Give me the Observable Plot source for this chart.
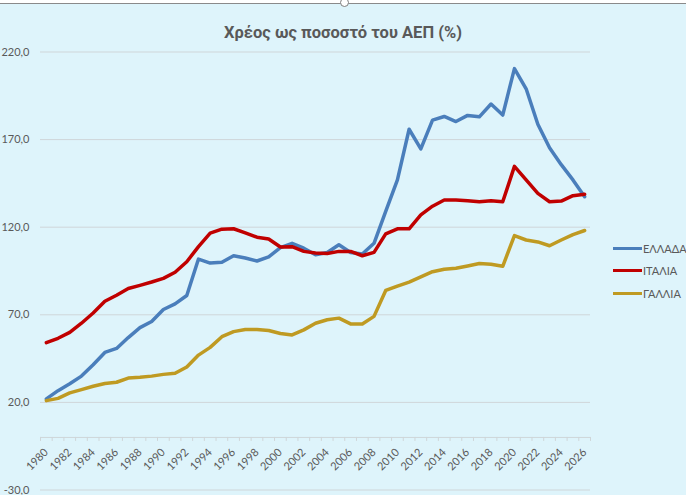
<!DOCTYPE html>
<html><head><meta charset="utf-8">
<script src="https://cdn.jsdelivr.net/npm/d3@7"></script>
<script src="https://cdn.jsdelivr.net/npm/@observablehq/plot@0.6"></script>
<style>
html,body{margin:0;padding:0;background:#fff;}
#wrap{position:relative;width:686px;height:495px;background:#def4fb;overflow:hidden;font-family:Lato,"Open Sans",sans-serif;}
#topbar{position:absolute;left:0;top:0;width:686px;height:3px;background:#fff;border-bottom:1px solid #8a8a8a;}
#handle{position:absolute;left:340px;top:-2px;width:7px;height:7px;border:1px solid #7f7f7f;border-radius:50%;background:#fff;}
#title{height:44px;box-sizing:border-box;padding-top:23px;line-height:20px;text-align:center;font-family:Roboto,sans-serif;font-weight:700;font-size:16.5px;color:#595959;}
#chart svg{display:block;}
#legend{position:absolute;left:613px;top:237px;font-size:11px;color:#595959;}
.item{display:flex;align-items:center;height:22.5px;}
.sw{width:29px;height:3px;margin-right:1px;}
</style>
</head><body>
<div id="wrap">
  <div id="topbar"></div><div id="handle"></div>
  <div id="title">Χρέος ως ποσοστό του ΑΕΠ (%)</div>
  <div id="chart"></div>
  <div id="legend"></div>
</div>
<script>
const years = [1980,1981,1982,1983,1984,1985,1986,1987,1988,1989,1990,1991,1992,1993,1994,1995,1996,1997,1998,1999,2000,2001,2002,2003,2004,2005,2006,2007,2008,2009,2010,2011,2012,2013,2014,2015,2016,2017,2018,2019,2020,2021,2022,2023,2024,2025,2026];
const tickYears = [1980,1982,1984,1986,1988,1990,1992,1994,1996,1998,2000,2002,2004,2006,2008,2010,2012,2014,2016,2018,2020,2022,2024,2026];
const yTicks = [-30,20,70,120,170,220];
const greece = [22.0,26.7,30.6,35.0,41.5,48.5,50.8,57.0,62.7,66.2,73.0,76.2,81.0,101.8,99.5,100.0,103.7,102.4,100.7,103.1,108.3,110.8,108.0,104.3,105.6,110.0,105.6,104.7,110.8,129.0,147.0,175.9,164.7,181.1,183.2,180.3,183.8,183.0,190.3,184.0,210.5,199.0,178.8,165.3,155.7,147.0,137.4];
const italy = [54.1,56.6,60.0,65.2,71.0,77.7,81.2,85.0,86.8,88.7,90.8,94.3,100.3,108.9,116.6,118.9,119.1,116.8,114.3,113.3,108.7,108.9,106.2,105.3,105.0,106.2,106.2,103.7,105.6,116.2,119.1,119.1,127.0,132.0,135.5,135.5,135.1,134.5,135.1,134.5,154.7,147.0,139.3,134.5,134.9,138.0,138.8];
const france = [21.0,22.3,25.4,27.3,29.2,30.8,31.5,33.9,34.3,35.0,36.0,36.6,40.2,47.0,51.4,57.5,60.4,61.6,61.6,61.0,59.3,58.5,61.4,65.2,67.2,68.1,64.8,64.8,69.1,83.9,86.4,88.7,91.6,94.6,96.0,96.6,97.9,99.3,98.9,97.7,115.2,112.7,111.6,109.4,112.7,115.8,118.1];
const seriesNames = ["ΕΛΛΑΔΑ","ΙΤΑΛΙΑ","ΓΑΛΛΙΑ"];
const seriesColors = ["#4a7ebb","#c00000","#bf9a22"];

const rows = [];
[greece, italy, france].forEach((vals, k) => years.forEach((yr, i) => rows.push({year: yr, value: vals[i], series: seriesNames[k]})));
const boundaries = years.map(y => y - 0.5).concat([years[years.length - 1] + 0.5]);
const fmt = d => d.toFixed(1).replace(".", ",");

const chart = Plot.plot({
  width: 686, height: 451,
  marginLeft: 40, marginRight: 96, marginTop: 7.5, marginBottom: 5.5,
  style: {background: "transparent", fontFamily: "Lato, 'Open Sans', sans-serif", fontSize: "11px", color: "#595959"},
  x: {domain: [1979.5, 2026.5], axis: null},
  y: {domain: [-30, 220], axis: null},
  color: {domain: seriesNames, range: seriesColors},
  marks: [
    Plot.gridY(yTicks, {stroke: "#cfd6d9", strokeOpacity: 1}),
    Plot.axisY(yTicks, {tickSize: 0, tickPadding: 11, tickFormat: fmt, fill: "#595959", fontSize: 11, label: null}),
    Plot.ruleY([0], {stroke: "#cfd6d9"}),
    Plot.ruleX(boundaries, {y1: 0, y2: 0, insetBottom: -4, stroke: "#cfd6d9"}),
    Plot.text(tickYears, {x: d => d, y: 0, text: d => String(d), rotate: -45, textAnchor: "end", dy: 13, dx: 0, fill: "#595959", fontSize: 11}),
    Plot.line(rows, {x: "year", y: "value", z: "series", stroke: "series", strokeWidth: 3.5, strokeLinejoin: "round", strokeLinecap: "round"})
  ]
});
document.getElementById("chart").appendChild(chart);

const legend = document.getElementById("legend");
seriesNames.forEach((name, k) => {
  const item = document.createElement("div");
  item.className = "item";
  const sw = document.createElement("div");
  sw.className = "sw";
  sw.style.background = seriesColors[k];
  const t = document.createElement("span");
  t.textContent = name;
  item.appendChild(sw); item.appendChild(t);
  legend.appendChild(item);
});
</script>
</body></html>
